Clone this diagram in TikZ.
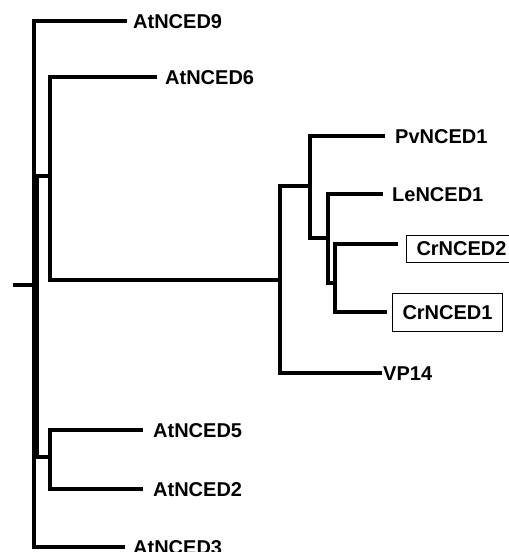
\documentclass[tikz,border=0pt]{standalone}
\usepackage{fontspec}
\setmainfont{Liberation Sans}
\usepackage{tikz}
\usetikzlibrary{positioning}
\tikzset{
  ph branch/.style={draw=black, line width=4.6pt, line cap=butt, line join=miter},
  ph trunk/.style={draw=black, line width=7pt, line cap=butt},
  ph leaf/.style={anchor=west, inner sep=0pt, text height=14pt, text depth=0pt,
    font=\fontsize{20}{20}\selectfont\bfseries},
  ph box/.style={ph leaf, draw=black, line width=1pt, inner xsep=10pt},
}

\begin{document}
\begin{tikzpicture}[x=1pt, y=-1pt]
 \useasboundingbox (0,0) rectangle (509,552);
 \clip (0,0) rectangle (509,552);
 % inner nodes
 \coordinate (stem) at (13,285);
 \coordinate (n0) at (34,285);
 \coordinate (a6) at (35.5,176);
 \coordinate (a5) at (35.5,457);
 \coordinate (n6) at (50,176);
 \coordinate (n5) at (50,457);
 \coordinate (n8) at (280,280);
 \coordinate (n9) at (310,186);
 \coordinate (n11) at (328,238);
 \coordinate (n12) at (335,283);
 % tips
 \coordinate (t9) at (127,21);
 \coordinate (t6) at (157,77);
 \coordinate (tPv) at (385,136);
 \coordinate (tLe) at (383,194);
 \coordinate (tCr2) at (398,244);
 \coordinate (tCr1) at (387,312);
 \coordinate (tVP) at (382,373);
 \coordinate (t5) at (143,430);
 \coordinate (t2) at (143,489);
 \coordinate (t3) at (125,547);
 % labels
 \node[ph leaf, right=6pt of t9] (AtNCED9) {AtNCED9};
 \node[ph leaf, right=8pt of t6] (AtNCED6) {AtNCED6};
 \node[ph leaf, right=10pt of tPv] (PvNCED1) {PvNCED1};
 \node[ph leaf, right=9pt of tLe] (LeNCED1) {LeNCED1};
 \node[ph box, inner ysep=6.5pt, yshift=-4.5pt, right=8pt of tCr2] (CrNCED2) {CrNCED2};
 \node[ph box, inner ysep=12pt, right=5pt of tCr1] (CrNCED1) {CrNCED1};
 \node[ph leaf, right=1pt of tVP] (VP14) {VP14};
 \node[ph leaf, right=10pt of t5] (AtNCED5) {AtNCED5};
 \node[ph leaf, right=10pt of t2] (AtNCED2) {AtNCED2};
 \node[ph leaf, right=8pt of t3] (AtNCED3) {AtNCED3};
 % branches
 \draw[ph branch] (stem) -- (n0);
 \draw[ph branch] (t9) -| (n0) |- (t3);
 \draw[ph trunk] (a6) -- (a5);
 \draw[ph branch] (a6) -- (n6);
 \draw[ph branch] (a5) -- (n5);
 \draw[ph branch] (t6) -| (n6) |- (n8);
 \draw[ph branch] (t5) -| (n5) |- (t2);
 \draw[ph branch] (n9) -| (n8) |- (tVP);
 \draw[ph branch] (tPv) -| (n9) |- (n11);
 \draw[ph branch] (tLe) -| (n11) |- (n12);
 \draw[ph branch] (tCr2) -| (n12) |- (tCr1);
\end{tikzpicture}
\end{document}
